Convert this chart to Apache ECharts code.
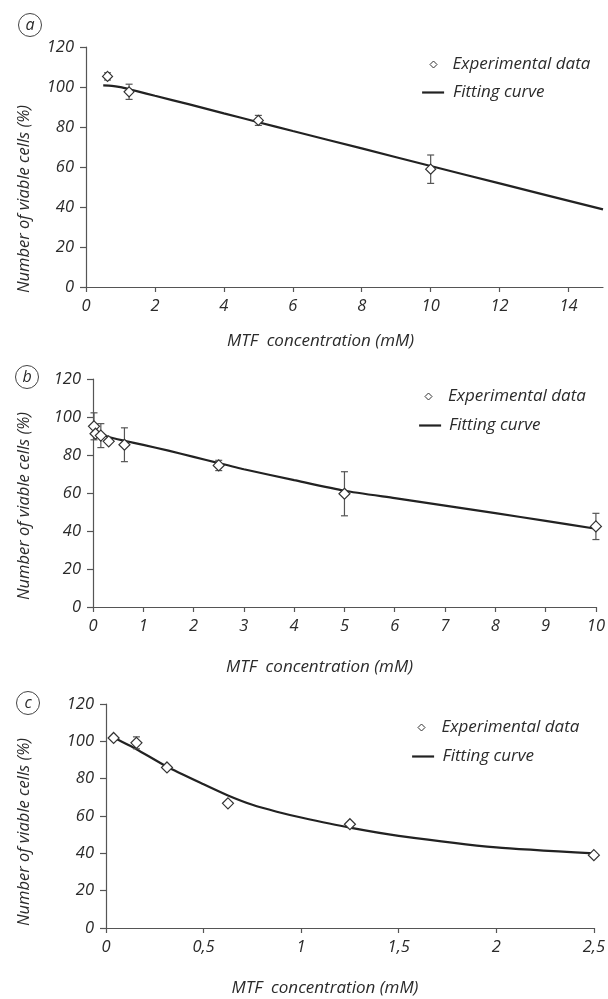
<!DOCTYPE html>
<html><head><meta charset="utf-8">
<script src="https://cdn.jsdelivr.net/npm/echarts@6/dist/echarts.min.js"></script>
<style>html,body{margin:0;padding:0;background:#fff}#c{width:608px;height:999px}</style>
</head><body><div id="c"></div>
<script>
// ---------- Panel a ----------
const aConc = [0.625, 1.25, 5, 10];
const aViable = [105.3, 97.6, 83.3, 58.9];
const aErr = [1.8, 3.8, 2.5, 7.1];
const aFitConc = [0.5, 0.75, 1, 1.25, 1.5, 2, 3, 4, 5, 6, 8, 10, 12, 15];
const aFitViable = [100.8, 100.6, 99.9, 98.9, 97.8, 95.6, 91.3, 86.8, 82.4, 78.0, 69.3, 60.5, 51.8, 38.8];
const aTicks = [0, 2, 4, 6, 8, 10, 12, 14];
const aMax = 15;

// ---------- Panel b ----------
const bConc = [0.02, 0.05, 0.156, 0.3125, 0.625, 2.5, 5, 10];
const bViable = [95.1, 91.2, 90.2, 87.2, 85.4, 74.5, 59.6, 42.4];
const bErr = [7.1, 0, 6.3, 0, 8.9, 2.7, 11.6, 6.9];
const bFitConc = [0.156, 0.3125, 0.625, 1, 1.5, 2, 2.5, 3, 4, 5, 6, 7, 8, 9, 10];
const bFitViable = [91.3, 89.5, 87.5, 85.3, 82.3, 79.0, 75.7, 72.5, 66.8, 61.2, 57.3, 53.4, 49.4, 45.3, 41.2];
const bTicks = [0, 1, 2, 3, 4, 5, 6, 7, 8, 9, 10];
const bMax = 10;

// ---------- Panel c ----------
const cConc = [0.039, 0.156, 0.3125, 0.625, 1.25, 2.5];
const cViable = [101.8, 99.2, 86.0, 66.8, 55.6, 39.0];
const cErr = [0, 3.2, 0, 0, 0, 0];
const cFitConc = [0.039, 0.156, 0.3125, 0.5, 0.625, 0.75, 0.875, 1, 1.25, 1.5, 2, 2.5];
const cFitViable = [102.0, 95.8, 86.4, 77.0, 71.0, 66.0, 62.3, 59.2, 53.8, 49.4, 43.2, 40.0];
const cTicks = [0, 0.5, 1, 1.5, 2, 2.5];
const cMax = 2.5;

const yTicks = [0, 20, 40, 60, 80, 100, 120];
const panelLetters = ['a', 'b', 'c'];
const xTitle = 'MTF  concentration (mM)';
const yTitle = 'Number of viable cells (%)';
const expName = 'Experimental data';
const fitName = 'Fitting curve';

// ---------- styling / layout ----------
const FONT = 'Open Sans';
const TXT = '#2b2b2b';
const AX = '#555';
const layouts = [
  {grid: {left: 86, top: 47, width: 517, height: 240}, yGap: 53, yShift: 64, xGap: 46, xShift: 48,
   leg: [{left: 429.5, top: 56, pad: 10.5}, {left: 421, top: 84, pad: 4}],
   circle: [30, 25]},
  {grid: {left: 93, top: 379, width: 506, height: 228}, yGap: 60, yShift: 26, xGap: 52, xShift: 50,
   leg: [{left: 424.5, top: 388, pad: 11}, {left: 418, top: 417, pad: 3}],
   circle: [27, 377]},
  {grid: {left: 106, top: 704, width: 493, height: 224}, yGap: 73, yShift: 32, xGap: 52, xShift: 50,
   leg: [{left: 417.5, top: 719, pad: 11.5}, {left: 411, top: 748, pad: 3.5}],
   circle: [28, 703]}
];

const panels = [
  {conc: aConc, viable: aViable, err: aErr, fitC: aFitConc, fitV: aFitViable, ticks: aTicks, max: aMax, sym: 10},
  {conc: bConc, viable: bViable, err: bErr, fitC: bFitConc, fitV: bFitViable, ticks: bTicks, max: bMax, sym: 11},
  {conc: cConc, viable: cViable, err: cErr, fitC: cFitConc, fitV: cFitViable, ticks: cTicks, max: cMax, sym: 11}
];

function fmt(v) { return String(v).replace('.', ','); }

function renderErr(params, api) {
  const x = api.value(0), lo = api.value(1), hi = api.value(2);
  const t = api.coord([x, hi]), b = api.coord([x, lo]);
  const w = 3.5;
  const style = {stroke: '#555', lineWidth: 1.2};
  return {type: 'group', children: [
    {type: 'line', shape: {x1: t[0], y1: t[1], x2: b[0], y2: b[1]}, style: style},
    {type: 'line', shape: {x1: t[0] - w, y1: t[1], x2: t[0] + w, y2: t[1]}, style: style},
    {type: 'line', shape: {x1: b[0] - w, y1: b[1], x2: b[0] + w, y2: b[1]}, style: style}
  ]};
}

const grid = [], xAxis = [], yAxis = [], series = [], legend = [], graphic = [];
panels.forEach((p, i) => {
  const L = layouts[i];
  grid.push(L.grid);
  xAxis.push({
    type: 'value', gridIndex: i, min: 0, max: p.max,
    name: xTitle, nameLocation: 'middle', nameGap: L.xGap,
    nameTextStyle: {fontFamily: FONT, fontSize: 17, fontStyle: 'italic', color: TXT, padding: [0, L.xShift, 0, 0]},
    axisLine: {show: true, lineStyle: {color: AX, width: 1.2}},
    axisTick: {show: true, length: 5, customValues: p.ticks, lineStyle: {color: AX, width: 1.2}},
    axisLabel: {show: true, customValues: p.ticks, margin: 11, formatter: fmt,
      fontFamily: FONT, fontSize: 16.5, fontStyle: 'italic', color: TXT},
    splitLine: {show: false}
  });
  yAxis.push({
    type: 'value', gridIndex: i, min: 0, max: 120, interval: 20,
    name: yTitle, nameLocation: 'middle', nameGap: L.yGap,
    nameTextStyle: {fontFamily: FONT, fontSize: 16.5, fontStyle: 'italic', color: TXT, padding: [0, L.yShift, 0, 0]},
    axisLine: {show: true, lineStyle: {color: AX, width: 1.2}},
    axisTick: {show: true, length: 6, lineStyle: {color: AX, width: 1.2}},
    axisLabel: {show: true, margin: 12, fontFamily: FONT, fontSize: 16.5, fontStyle: 'italic', color: TXT},
    splitLine: {show: false}
  });
  series.push({
    type: 'line', name: fitName, xAxisIndex: i, yAxisIndex: i,
    data: p.fitC.map((c, k) => [c, p.fitV[k]]),
    smooth: 0.2, symbol: 'none',
    itemStyle: {color: '#222'}, lineStyle: {color: '#222', width: 2.2}, z: 2, silent: true
  });
  series.push({
    type: 'custom', name: 'err' + i, xAxisIndex: i, yAxisIndex: i,
    data: p.conc.map((c, k) => [c, p.viable[k] - p.err[k], p.viable[k] + p.err[k]]).filter((d, k) => p.err[k] > 0),
    encode: {x: 0, y: [1, 2]}, renderItem: renderErr, z: 3, silent: true
  });
  series.push({
    type: 'scatter', name: expName, xAxisIndex: i, yAxisIndex: i,
    data: p.conc.map((c, k) => [c, p.viable[k]]),
    symbol: 'diamond', symbolSize: p.sym,
    itemStyle: {color: '#fff', borderColor: '#333', borderWidth: 1.2, opacity: 1}, z: 4, silent: true
  });
  const lt = {fontFamily: FONT, fontSize: 17, fontStyle: 'italic', color: TXT};
  legend.push({
    data: [{name: expName, icon: 'diamond'}], left: L.leg[0].left, top: L.leg[0].top, padding: 0,
    itemWidth: 7, itemHeight: 7, selectedMode: false,
    itemStyle: {color: '#fff', borderColor: '#333', borderWidth: 1},
    textStyle: Object.assign({padding: [0, 0, 0, L.leg[0].pad]}, lt)
  });
  legend.push({
    data: [fitName], left: L.leg[1].left, top: L.leg[1].top, padding: 0,
    itemWidth: 22, itemHeight: 8, selectedMode: false,
    itemStyle: {opacity: 0}, lineStyle: {color: '#222', width: 2.2},
    textStyle: Object.assign({padding: [0, 0, 0, L.leg[1].pad]}, lt)
  });
  graphic.push({type: 'circle', shape: {cx: L.circle[0], cy: L.circle[1], r: 11.5},
    style: {fill: 'none', stroke: '#444', lineWidth: 1}});
  graphic.push({type: 'text', x: L.circle[0], y: L.circle[1],
    style: {text: panelLetters[i], fontFamily: FONT, fontSize: 16, fontStyle: 'italic', fill: TXT,
      align: 'center', verticalAlign: 'middle'}});
});

const chart = echarts.init(document.getElementById('c'), null, {renderer: 'canvas'});
chart.setOption({
  animation: false,
  backgroundColor: '#fff',
  grid, xAxis, yAxis, series, legend, graphic
});
</script>
</body></html>
